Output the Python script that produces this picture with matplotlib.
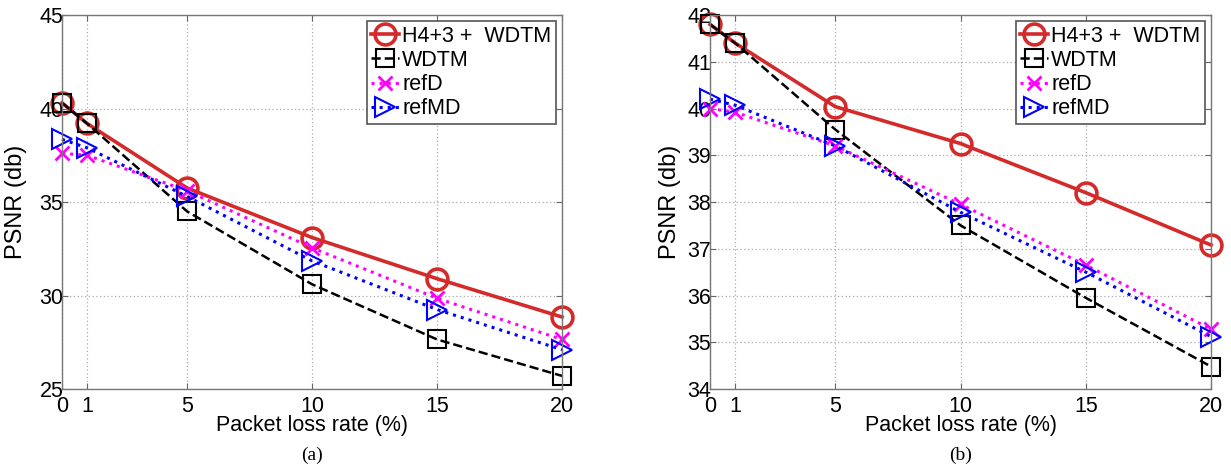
import matplotlib
matplotlib.use("Agg")
import matplotlib.pyplot as plt

plt.rcParams["font.family"] = ["Liberation Sans", "DejaVu Sans"]

LOSS_RATE = [0, 1, 5, 10, 15, 20]
SERIES_NAMES = ["H4+3 +  WDTM", "WDTM", "refD", "refMD"]

# panel (a)
A_H43 = [40.3, 39.2, 35.75, 33.1, 30.9, 28.85]
A_WDTM = [40.3, 39.2, 34.5, 30.6, 27.65, 25.7]
A_REFD = [37.6, 37.5, 35.6, 32.55, 29.85, 27.65]
A_REFMD = [38.35, 37.9, 35.3, 31.85, 29.25, 27.1]

# panel (b)
B_H43 = [41.8, 41.4, 40.04, 39.25, 38.2, 37.08]
B_WDTM = [41.8, 41.4, 39.55, 37.5, 35.95, 34.48]
B_REFD = [40.0, 39.92, 39.2, 37.95, 36.65, 35.28]
B_REFMD = [40.2, 40.07, 39.2, 37.78, 36.5, 35.12]

A_YTICKS = [25, 30, 35, 40, 45]
B_YTICKS = [34, 35, 36, 37, 38, 39, 40, 41, 42]

STYLES = [
    dict(color="#d42a2a", linestyle="-", linewidth=2.6, marker="o", markersize=15,
         markerfacecolor="none", markeredgewidth=2.6),
    dict(color="black", linestyle="--", linewidth=1.8, marker="s", markersize=13,
         markerfacecolor="none", markeredgewidth=1.5),
    dict(color="#ff00ff", linestyle=":", linewidth=2.2, marker="x", markersize=10,
         markeredgewidth=2.0),
    dict(color="#0000ff", linestyle=":", linewidth=2.2, marker=">", markersize=15,
         markerfacecolor="none", markeredgewidth=1.5),
]


def draw_panel(ax, series, yticks, caption, ylabel_x):
    for values, name, style in zip(series, SERIES_NAMES, STYLES):
        ax.plot(LOSS_RATE, values, label=name, clip_on=False, **style)

    ax.set_xlim(0, 20)
    ax.set_ylim(yticks[0], yticks[-1])
    ax.set_xticks(LOSS_RATE)
    ax.set_yticks(yticks)
    ax.grid(True, linestyle=(0, (1, 2)), color="#aaaaaa", linewidth=0.9)
    ax.tick_params(direction="in", length=4, width=0.8, color="#666666",
                   top=True, right=True, labelsize=15.5)
    ax.tick_params(axis="y", pad=-1)
    ax.tick_params(axis="x", pad=5)
    for spine in ax.spines.values():
        spine.set_color("#777777")
        spine.set_linewidth(1.0)

    ax.set_xlabel("Packet loss rate (%)", fontsize=15.5, va="top")
    ax.xaxis.set_label_coords(0.5, -0.07)
    ax.set_ylabel("PSNR (db)", fontsize=17)
    ax.yaxis.set_label_coords(ylabel_x, 0.5)

    legend = ax.legend(loc="upper right", fontsize=15.5, handlelength=1.3,
                       handletextpad=0.15, labelspacing=0.15, borderpad=0.2,
                       borderaxespad=0.3, fancybox=False, framealpha=1)
    legend.get_frame().set_edgecolor("#555555")
    legend.get_frame().set_linewidth(1.2)

    ax.text(0.5, -0.155, caption, transform=ax.transAxes, ha="center", va="top",
            fontsize=14, family=["Liberation Serif", "DejaVu Serif"])


fig = plt.figure(figsize=(12.31, 4.72), dpi=100)
ax_a = fig.add_axes([0.0504, 0.1758, 0.4062, 0.7924])
ax_b = fig.add_axes([0.5768, 0.1758, 0.4070, 0.7924])

draw_panel(ax_a, [A_H43, A_WDTM, A_REFD, A_REFMD], A_YTICKS, "(a)", -0.07)
draw_panel(ax_b, [B_H43, B_WDTM, B_REFD, B_REFMD], B_YTICKS, "(b)", -0.058)

fig.savefig("out.png", dpi=100)
